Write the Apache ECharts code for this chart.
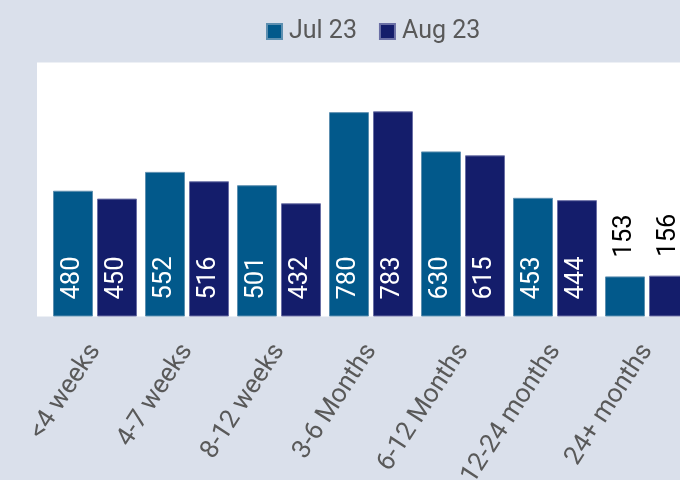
<!DOCTYPE html>
<html>
<head>
<meta charset="utf-8">
<script src="https://cdn.jsdelivr.net/npm/echarts@6/dist/echarts.min.js"></script>
<style>
  html, body { margin: 0; padding: 0; background: #dae0eb; }
  #chart { width: 680px; height: 480px; }
</style>
</head>
<body>
<div id="chart"></div>
<script>
const categories = ['<4 weeks', '4-7 weeks', '8-12 weeks', '3-6 Months', '6-12 Months', '12-24 months', '24+ months']
const jul23 = [480, 552, 501, 780, 630, 453, 153]
const aug23 = [450, 516, 432, 783, 615, 444, 156]

const font = 'Roboto, "Noto Sans", sans-serif'

// short bars get their label above the bar in black
function barData(values) {
  return values.map(v => {
    if (v >= 200) return v
    return {
      value: v,
      label: { position: 'top', color: '#000', distance: 19 }
    }
  })
}

function barSeries(name, values, color, border) {
  return {
    name,
    type: 'bar',
    data: barData(values),
    barWidth: 40,
    barGap: '10%',
    itemStyle: { color, borderColor: border, borderWidth: 1 },
    label: {
      show: true,
      position: 'insideBottom',
      rotate: 90,
      align: 'left',
      verticalAlign: 'middle',
      distance: 17,
      color: '#fff',
      fontSize: 25.5,
      fontFamily: font
    }
  }
}

const chart = echarts.init(document.getElementById('chart'))
chart.setOption({
  backgroundColor: '#dae0eb',
  animation: false,
  graphic: [
    {
      type: 'rect',
      z: -1,
      shape: { x: 37, y: 62.5, width: 660, height: 254 },
      style: { fill: '#ffffff' }
    }
  ],
  legend: {
    left: 261,
    top: 14,
    itemWidth: 15,
    itemHeight: 15,
    itemGap: 22,
    icon: 'rect',
    textStyle: { color: '#595959', fontSize: 25, fontFamily: font, padding: [0, 0, 0, 2] },
    data: ['Jul 23', 'Aug 23']
  },
  grid: {
    left: 49,
    right: -13,
    top: 54.5,
    bottom: 163.5,
    outerBoundsMode: 'none',
    containLabel: false
  },
  xAxis: {
    type: 'category',
    data: categories,
    axisLine: { show: false },
    axisTick: { show: false },
    axisLabel: {
      rotate: 57,
      margin: 30,
      interval: 0,
      color: '#595959',
      fontSize: 26,
      fontFamily: font
    }
  },
  yAxis: {
    type: 'value',
    min: 0,
    max: 1000,
    show: false,
    splitLine: { show: false }
  },
  series: [
    barSeries('Jul 23', jul23, '#02598b', '#5d8fb0'),
    barSeries('Aug 23', aug23, '#141d6b', '#6a6fa5')
  ]
})
</script>
</body>
</html>
